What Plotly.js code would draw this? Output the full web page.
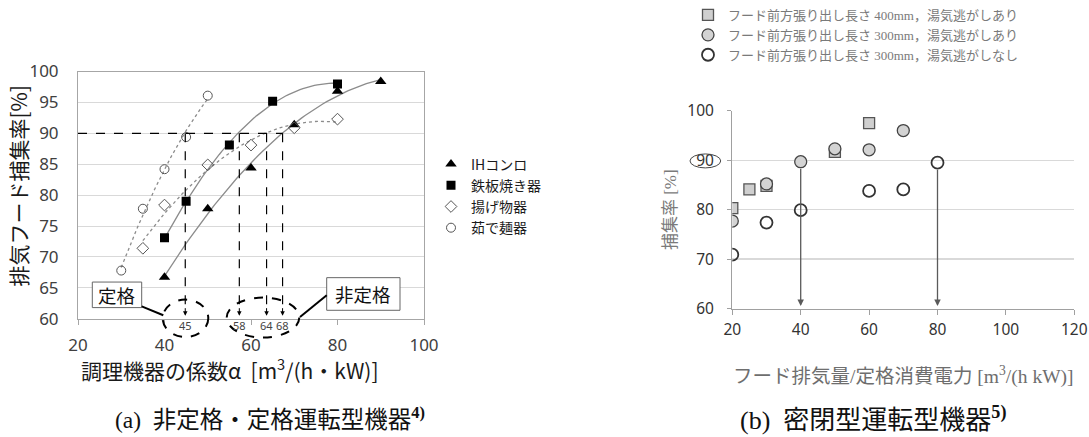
<!DOCTYPE html>
<html><head><meta charset="utf-8">
<script src="https://cdn.plot.ly/plotly-3.0.1.min.js"></script>
<style>html,body{margin:0;padding:0;background:#fff}#chart{width:1089px;height:437px}</style>
</head><body><div id="chart"></div>
<script>
// ---------- (a) data ----------
const alphaIH = [40, 50, 60, 70, 80, 90];
const captureIH = [66.7, 77.8, 84.4, 91.4, 96.8, 98.4];
const alphaGrill = [40, 45, 55, 65, 80];
const captureGrill = [73.1, 79.0, 88.1, 95.2, 98.0];
const alphaFry = [35, 40, 50, 60, 70, 80];
const captureFry = [71.4, 78.4, 84.9, 88.1, 90.9, 92.3];
const alphaNoodle = [30, 35, 40, 45, 50];
const captureNoodle = [67.8, 77.8, 84.2, 89.4, 96.1];
const seriesNamesA = ['IHコンロ', '鉄板焼き器', '揚げ物器', '茹で麺器'];
const targetCapture = 90;
const crossAlpha = [44.8, 57.3, 63.6, 67.3];
const crossLabels = ['45', '58', '64', '68'];

// ---------- (b) data ----------
const ratioSq400 = [20, 25, 30, 50, 60];
const capSq400 = [80.3, 84.1, 84.8, 91.7, 97.5];
const ratioGray300 = [20, 30, 40, 50, 60, 70];
const capGray300 = [77.7, 85.2, 89.7, 92.3, 92.1, 96.0];
const ratioOpen300 = [20, 30, 40, 60, 70, 80];
const capOpen300 = [70.9, 77.4, 79.9, 83.8, 84.1, 89.5];
const seriesNamesB = [
  'フード前方張り出し長さ 400mm，湯気逃がしあり',
  'フード前方張り出し長さ 300mm，湯気逃がしあり',
  'フード前方張り出し長さ 300mm，湯気逃がしなし'
];
const arrowRatio = [40, 80];
const arrowFrom = [88.6, 88.4];

// ---------- helpers ----------
const W = 1089, H = 437;
const px = x => x / W;
const py = y => (H - y) / H;
const JP = '"Noto Sans CJK JP", "Noto Sans", sans-serif';
const NUM = '"Noto Sans", "Liberation Sans", sans-serif';
const SERIF = '"Liberation Serif", "Noto Sans CJK JP", serif';

function quadFit(xs, ys) {
  // least squares trend line y = a + b x + c x^2
  let S = [[0,0,0],[0,0,0],[0,0,0]], T = [0,0,0];
  for (let i = 0; i < xs.length; i++) {
    const p = [1, xs[i], xs[i]*xs[i]];
    for (let r = 0; r < 3; r++) { T[r] += p[r]*ys[i]; for (let c = 0; c < 3; c++) S[r][c] += p[r]*p[c]; }
  }
  const M = S.map((row, i) => row.concat([T[i]]));
  for (let i = 0; i < 3; i++) {
    let piv = i; for (let k = i+1; k < 3; k++) if (Math.abs(M[k][i]) > Math.abs(M[piv][i])) piv = k;
    [M[i], M[piv]] = [M[piv], M[i]];
    for (let k = 0; k < 3; k++) if (k !== i) { const f = M[k][i]/M[i][i]; for (let c = i; c < 4; c++) M[k][c] -= f*M[i][c]; }
  }
  const coef = [M[0][3]/M[0][0], M[1][3]/M[1][1], M[2][3]/M[2][2]];
  const x0 = Math.min(...xs), x1 = Math.max(...xs), n = 60;
  const fx = [], fy = [];
  for (let i = 0; i <= n; i++) { const x = x0 + (x1-x0)*i/n; fx.push(x); fy.push(coef[0]+coef[1]*x+coef[2]*x*x); }
  return {x: fx, y: fy};
}

const fitIH = quadFit(alphaIH, captureIH);
const fitGrill = quadFit(alphaGrill, captureGrill);
const fitFry = quadFit(alphaFry, captureFry);
const fitNoodle = quadFit(alphaNoodle, captureNoodle);

const trendStyle = (dash) => ({color: '#8c8c8c', width: 1.3, dash: dash});

const traces = [
  {x: fitIH.x, y: fitIH.y, mode: 'lines', line: trendStyle('solid'), xaxis: 'x', yaxis: 'y', showlegend: false, hoverinfo: 'skip'},
  {x: fitGrill.x, y: fitGrill.y, mode: 'lines', line: trendStyle('solid'), xaxis: 'x', yaxis: 'y', showlegend: false, hoverinfo: 'skip'},
  {x: fitFry.x, y: fitFry.y, mode: 'lines', line: trendStyle('dot'), xaxis: 'x', yaxis: 'y', showlegend: false, hoverinfo: 'skip'},
  {x: fitNoodle.x, y: fitNoodle.y, mode: 'lines', line: trendStyle('dot'), xaxis: 'x', yaxis: 'y', showlegend: false, hoverinfo: 'skip'},
  {x: alphaIH, y: captureIH, name: seriesNamesA[0], mode: 'markers', xaxis: 'x', yaxis: 'y', legend: 'legend',
   marker: {symbol: 'triangle-up', size: 10, color: '#000'}},
  {x: alphaGrill, y: captureGrill, name: seriesNamesA[1], mode: 'markers', xaxis: 'x', yaxis: 'y', legend: 'legend',
   marker: {symbol: 'square', size: 9, color: '#000'}},
  {x: alphaFry, y: captureFry, name: seriesNamesA[2], mode: 'markers', xaxis: 'x', yaxis: 'y', legend: 'legend',
   marker: {symbol: 'diamond-open', size: 9, color: '#555', line: {width: 1}}},
  {x: alphaNoodle, y: captureNoodle, name: seriesNamesA[3], mode: 'markers', xaxis: 'x', yaxis: 'y', legend: 'legend',
   marker: {symbol: 'circle-open', size: 9, color: '#555', line: {width: 1}}},
  {x: [20, crossAlpha[crossAlpha.length-1]], y: [targetCapture, targetCapture], mode: 'lines', xaxis: 'x', yaxis: 'y',
   line: {color: '#000', width: 1.4, dash: 'dash'}, showlegend: false, hoverinfo: 'skip'},
];
crossAlpha.forEach(a => traces.push({x: [a, a], y: [targetCapture, 61.2], mode: 'lines', xaxis: 'x', yaxis: 'y',
  line: {color: '#000', width: 1.2, dash: 'dash'}, showlegend: false, hoverinfo: 'skip'}));

traces.push(
  {x: ratioSq400, y: capSq400, name: seriesNamesB[0], mode: 'markers', xaxis: 'x2', yaxis: 'y2', legend: 'legend2',
   marker: {symbol: 'square', size: 11, color: '#cfcfcf', line: {color: '#555', width: 1.3}}},
  {x: ratioGray300, y: capGray300, name: seriesNamesB[1], mode: 'markers', xaxis: 'x2', yaxis: 'y2', legend: 'legend2',
   marker: {symbol: 'circle', size: 12, color: '#d3d3d3', line: {color: '#444', width: 1.3}}},
  {x: ratioOpen300, y: capOpen300, name: seriesNamesB[2], mode: 'markers', xaxis: 'x2', yaxis: 'y2', legend: 'legend2',
   marker: {symbol: 'circle', size: 12, color: 'rgba(255,255,255,0)', line: {color: '#333', width: 1.8}}}
);

const annotations = [];
const txt = (x, y, text, font, extra) => Object.assign({x: px(x), y: py(y), xref: 'paper', yref: 'paper',
  text: text, showarrow: false, font: font, xanchor: 'center', yanchor: 'middle'}, extra || {});

crossAlpha.forEach((a, i) => {
  annotations.push({x: a, y: 60.5, xref: 'x', yref: 'y', ax: 0, ay: -9, text: '', showarrow: true,
    arrowhead: 2, arrowsize: 0.9, arrowwidth: 1, arrowcolor: '#000'});
  annotations.push({x: a, y: py(325), xref: 'x', yref: 'paper', text: crossLabels[i], showarrow: false,
    font: {family: NUM, size: 11, color: '#444'}, xanchor: 'center', yanchor: 'middle'});
});
annotations.push(txt(117, 294.5, '定格', {family: JP, size: 18.5, color: '#111'}));
annotations.push(txt(363.3, 293.7, '非定格', {family: JP, size: 18.5, color: '#111'}));
annotations.push(txt(230, 369, '調理機器の係数α  [m<sup>3</sup>/(h・kW)]', {family: JP, size: 21, color: '#1a1a1a'}));
annotations.push(txt(18, 185, '排気フード捕集率[%]', {family: JP, size: 21, color: '#1a1a1a'}, {textangle: -90}));
arrowRatio.forEach((r, i) => annotations.push({x: r, y: 60.5, xref: 'x2', yref: 'y2', ax: r, ay: arrowFrom[i],
  axref: 'x2', ayref: 'y2', text: '', showarrow: true, arrowhead: 2, arrowsize: 1, arrowwidth: 1.3, arrowcolor: '#5a5a5a'}));
annotations.push(txt(270, 418, '(a)  非定格・定格運転型機器<sup><b>4)</b></sup>', {family: SERIF, size: 23.5, color: '#111'}));
annotations.push(txt(873, 418, '(b)  密閉型運転型機器<sup><b>5)</b></sup>', {family: SERIF, size: 26, color: '#111'}));

const shapes = [
  {type: 'circle', xref: 'paper', yref: 'paper', x0: px(162.7), x1: px(208.3), y0: py(336.7), y1: py(299.3),
   line: {color: '#000', width: 2, dash: 'dash'}},
  {type: 'circle', xref: 'paper', yref: 'paper', x0: px(226.7), x1: px(299.3), y0: py(337.3), y1: py(297.3),
   line: {color: '#000', width: 2, dash: 'dash'}},
  {type: 'rect', xref: 'paper', yref: 'paper', x0: px(92.3), x1: px(141.7), y0: py(307.3), y1: py(281.7),
   line: {color: '#666', width: 1}, fillcolor: '#fff'},
  {type: 'rect', xref: 'paper', yref: 'paper', x0: px(326.7), x1: px(400), y0: py(310), y1: py(277.3),
   line: {color: '#666', width: 1}, fillcolor: '#fff'},
  {type: 'line', xref: 'paper', yref: 'paper', x0: px(141.7), y0: py(306), x1: px(163.3), y1: py(315),
   line: {color: '#000', width: 2}},
  {type: 'line', xref: 'paper', yref: 'paper', x0: px(326.7), y0: py(295), x1: px(300), y1: py(316.7),
   line: {color: '#000', width: 2}},
  {type: 'circle', xref: 'paper', yref: 'paper', x0: px(690), x1: px(720.7), y0: py(167.3), y1: py(153.3),
   line: {color: '#444', width: 1}},
];

const layout = {
  width: W, height: H,
  margin: {l: 0, r: 0, t: 0, b: 0},
  paper_bgcolor: '#fff', plot_bgcolor: '#fff',
  font: {family: JP, color: '#333'},
  showlegend: true,
  xaxis: {domain: [px(78), px(424)], range: [20, 100], tick0: 20, dtick: 20, anchor: 'y',
    showgrid: false, zeroline: false, showline: true, mirror: true, linecolor: '#a6a6a6', linewidth: 1,
    ticks: 'outside', ticklen: 5, tickcolor: '#a6a6a6', ticklabelstandoff: 6,
    tickfont: {family: NUM, size: 17, color: '#404040'}},
  yaxis: {domain: [py(318.5), py(70.7)], range: [60, 100], tick0: 60, dtick: 5, anchor: 'x',
    showgrid: true, gridcolor: '#d9d9d9', gridwidth: 1, zeroline: false, showline: true, mirror: true,
    linecolor: '#a6a6a6', linewidth: 1, ticks: '', ticklabelstandoff: 15,
    tickfont: {family: NUM, size: 17, color: '#404040'}},
  xaxis2: {domain: [px(732.3), px(1074.3)], range: [20, 120], tick0: 20, dtick: 20, anchor: 'y2',
    showgrid: false, zeroline: false, showline: true, linecolor: '#a0a0a0', linewidth: 1.3,
    ticks: 'outside', ticklen: 5, tickcolor: '#a0a0a0', ticklabelstandoff: 2,
    tickfont: {family: NUM, size: 15.5, color: '#333'},
    title: {text: 'フード排気量/定格消費電力 [m<sup>3</sup>/(h kW)]', standoff: 30,
      font: {family: SERIF, size: 19.5, color: '#6e6e6e'}}},
  yaxis2: {domain: [py(308.3), py(110)], range: [60, 100], tick0: 60, dtick: 10, anchor: 'x2',
    showgrid: true, gridcolor: '#d9d9d9', gridwidth: 1.3, zeroline: false, showline: true, linecolor: '#a0a0a0',
    linewidth: 1.3, ticks: 'outside', ticklen: 4, tickcolor: '#a0a0a0', ticklabelstandoff: 10,
    tickfont: {family: NUM, size: 15.5, color: '#333'},
    title: {text: '捕集率 [%]', standoff: 6, font: {family: SERIF, size: 17, color: '#7a7a7a'}}},
  legend: {x: px(431), y: py(148.5), xanchor: 'left', yanchor: 'top', bgcolor: 'rgba(0,0,0,0)',
    font: {family: JP, size: 14, color: '#1a1a1a'}, itemwidth: 30, traceorder: 'normal'},
  legend2: {x: px(688), y: py(-1), xanchor: 'left', yanchor: 'top', bgcolor: 'rgba(0,0,0,0)',
    font: {family: SERIF, size: 13, color: '#7a7a7a'}, itemwidth: 30, traceorder: 'normal'},
  annotations: annotations,
  shapes: shapes
};

Plotly.newPlot('chart', traces, layout, {staticPlot: true, displayModeBar: false});
</script></body></html>
